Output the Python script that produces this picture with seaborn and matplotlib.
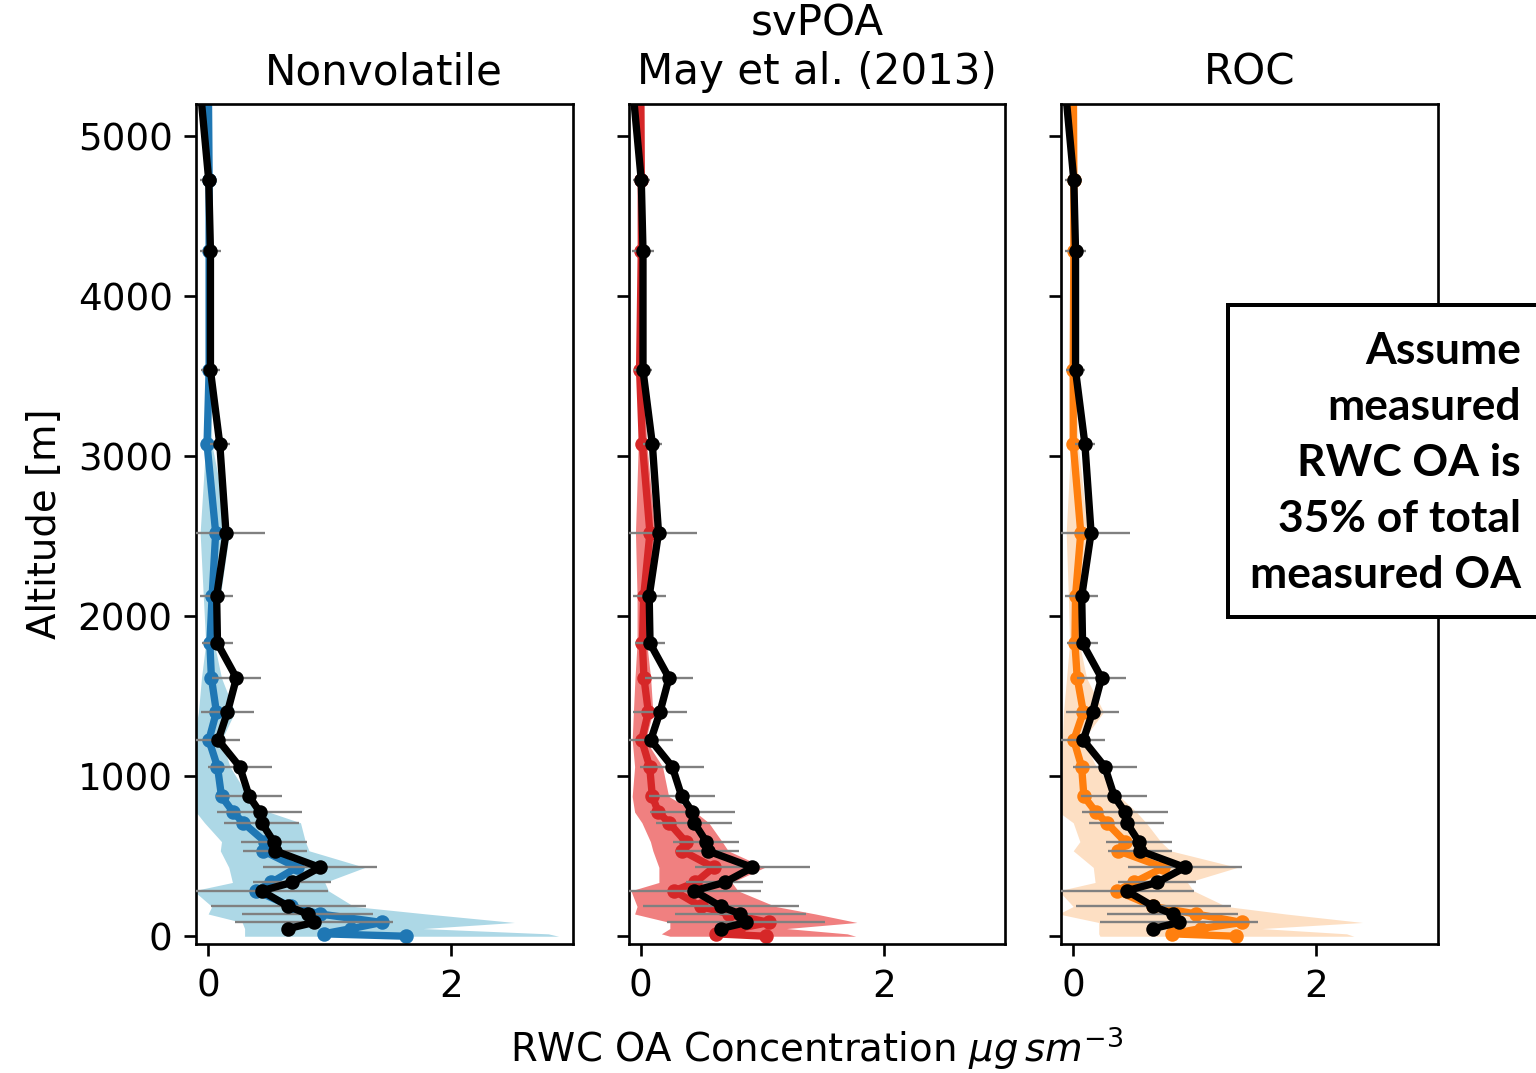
import numpy as np
import matplotlib
matplotlib.use("Agg")
import matplotlib.pyplot as plt
from matplotlib.patches import Rectangle
import seaborn as sns

nan = np.nan

# altitude bins [m]
altitude = [5500, 4723, 4285, 3536, 3075, 2521, 2125, 1830, 1614, 1401, 1226, 1059,
            874, 776, 709, 591, 534, 430, 336, 284, 186, 139, 86, 48, 15, 0]

# measured RWC OA (black) and its spread
observed = [-0.09, 0.005, 0.019, 0.019, 0.096, 0.147, 0.07, 0.077, 0.233, 0.159, 0.083, 0.26,
            0.338, 0.426, 0.44, 0.54, 0.55, 0.92, 0.69, 0.44, 0.66, 0.82, 0.87, 0.66, nan, nan]
observed_err = [0.07, 0.07, 0.09, 0.075, 0.08, 0.32, 0.135, 0.125, 0.2, 0.22, 0.18, 0.265,
                0.27, 0.35, 0.31, 0.27, 0.26, 0.47, 0.32, 0.55, 0.64, 0.54, 0.65, nan, nan, nan]

# model runs
nonvolatile = [0.0, 0.008, 0.008, 0.008, -0.009, 0.062, 0.033, 0.014, 0.027, 0.068, 0.006, 0.077,
               0.11, 0.206, 0.289, 0.468, 0.454, 0.73, 0.52, 0.396, 0.68, 0.92, 1.43, 1.18, 0.95, 1.63]
nonvolatile_lo = [-0.015, -0.01, -0.01, -0.015, -0.02, -0.066, -0.04, -0.02, -0.055, -0.08, -0.12, -0.12,
                  -0.12, -0.1, -0.03, 0.11, 0.10, 0.17, 0.2, -0.12, 0.03, 0.0, 0.28, 0.3, 0.3, 0.3]
nonvolatile_hi = [0.02, 0.02, 0.02, 0.02, 0.03, 0.175, 0.1, 0.05, 0.11, 0.22, 0.11, 0.18,
                  0.33, 0.5, 0.76, 0.8, 0.83, 1.29, 0.96, 0.99, 1.2, 1.8, 2.52, 1.77, 2.8, 2.885]

svpoa = [0.0, 0.005, 0.005, -0.009, 0.014, 0.076, 0.025, 0.014, 0.027, 0.063, 0.008, 0.074,
         0.096, 0.145, 0.233, 0.37, 0.343, 0.6, 0.45, 0.275, 0.495, 0.73, 1.06, 0.8, 0.62, 1.03]
svpoa_lo = [-0.015, -0.01, -0.01, -0.015, -0.02, -0.043, -0.03, -0.03, -0.047, -0.06, -0.07, -0.05,
            -0.07, -0.05, 0.01, 0.08, 0.1, 0.15, 0.15, -0.08, -0.03, -0.05, 0.24, 0.24, 0.17, 0.24]
svpoa_hi = [0.02, 0.02, 0.02, 0.02, 0.05, 0.118, 0.07, 0.05, 0.082, 0.1, 0.04, 0.18,
            0.23, 0.45, 0.56, 0.67, 0.72, 1.02, 0.75, 0.8, 1.11, 1.44, 1.78, 1.2, 1.7, 1.77]

roc = [0.0, 0.005, 0.005, 0.0, 0.0, 0.062, 0.019, 0.014, 0.033, 0.083, 0.005, 0.069,
       0.088, 0.187, 0.275, 0.427, 0.371, 0.743, 0.5, 0.357, 0.66, 1.01, 1.39, 1.05, 0.81, 1.34]
roc_lo = [-0.015, -0.01, -0.01, -0.015, -0.02, -0.058, -0.04, -0.03, -0.055, -0.08, -0.09, -0.09,
          -0.12, -0.12, 0.0, 0.055, 0.0, 0.165, 0.18, -0.12, 0.0, -0.12, 0.21, 0.21, 0.21, 0.22]
roc_hi = [0.02, 0.02, 0.02, 0.02, 0.04, 0.12, 0.09, 0.05, 0.11, 0.25, 0.08, 0.19,
          0.38, 0.52, 0.6, 0.72, 0.8, 1.35, 0.94, 0.99, 1.26, 1.75, 2.38, 1.55, 2.25, 2.31]

titles = ["Nonvolatile", "svPOA\nMay et al. (2013)", "ROC"]
line_colors = ["#1f77b4", "#d62728", "#ff7f0e"]
band_colors = ["#add8e6", "#f08080", "#fddfc3"]

sns.set_theme(context="notebook", style="ticks", rc={
    "axes.edgecolor": "black", "axes.linewidth": 0.8,
    "xtick.color": "black", "ytick.color": "black",
    "xtick.major.size": 3.5, "ytick.major.size": 3.5,
    "xtick.major.width": 0.8, "ytick.major.width": 0.8,
    "xtick.labelsize": 11.2, "ytick.labelsize": 11.2,
    "axes.labelsize": 11.6, "axes.titlesize": 12.6,
    "text.color": "black", "axes.labelcolor": "black",
})
plt.rcParams["font.family"] = ["DejaVu Sans"]

fig, axes = plt.subplots(1, 3, figsize=(6.4, 1073 / 240), dpi=240, sharey=True)
fig.subplots_adjust(left=0.1276, right=0.936, top=0.903, bottom=0.120, wspace=0.1485)

models = [(nonvolatile, nonvolatile_lo, nonvolatile_hi),
          (svpoa, svpoa_lo, svpoa_hi),
          (roc, roc_lo, roc_hi)]

alt = np.array(altitude, dtype=float)
obs = np.array(observed)
ok = ~np.isnan(obs)

for ax, (mod, lo, hi), title, lc, bc in zip(axes, models, titles, line_colors, band_colors):
    ax.fill_betweenx(alt, lo, hi, color=bc, lw=0, zorder=1)
    sns.lineplot(x=mod, y=altitude, sort=False, estimator=None, ax=ax, color=lc,
                 lw=2.2, marker="o", markersize=3.6, markeredgecolor=lc, zorder=2)
    ax.errorbar(obs, alt, xerr=observed_err, fmt="none", ecolor="gray",
                elinewidth=0.7, zorder=3)
    sns.lineplot(x=obs[ok], y=alt[ok], sort=False, estimator=None, ax=ax, color="black",
                 lw=2.2, marker="o", markersize=3.6, markeredgecolor="black", zorder=4)
    ax.set_title(title)
    ax.set_xlim(-0.1, 3.0)
    ax.set_ylim(-50, 5200)
    ax.set_xticks([0, 2])
    ax.set_yticks([0, 1000, 2000, 3000, 4000, 5000])
    ax.set_xlabel("")
    ax.set_ylabel("")

axes[0].set_ylabel("Altitude [m]")
axes[1].set_xlabel(r"RWC OA Concentration $\mu g\, sm^{-3}$", labelpad=6)

# annotation box, runs off the right edge
box = Rectangle((1228 / 1536, 1 - 617 / 1073), (1560 - 1228) / 1536, (617 - 305) / 1073,
                transform=fig.transFigure, facecolor="white", edgecolor="black",
                lw=1.2, zorder=10, clip_on=False)
fig.patches.append(box)
fig.text(1521 / 1536, 1 - 463 / 1073,
         "Assume\nmeasured\nRWC OA is\n35% of total\nmeasured OA",
         ha="right", va="center", multialignment="right", fontsize=13.3,
         fontweight="bold", family=["Lato", "DejaVu Sans"], linespacing=1.48, zorder=11)

fig.savefig("out.png", dpi=240)
